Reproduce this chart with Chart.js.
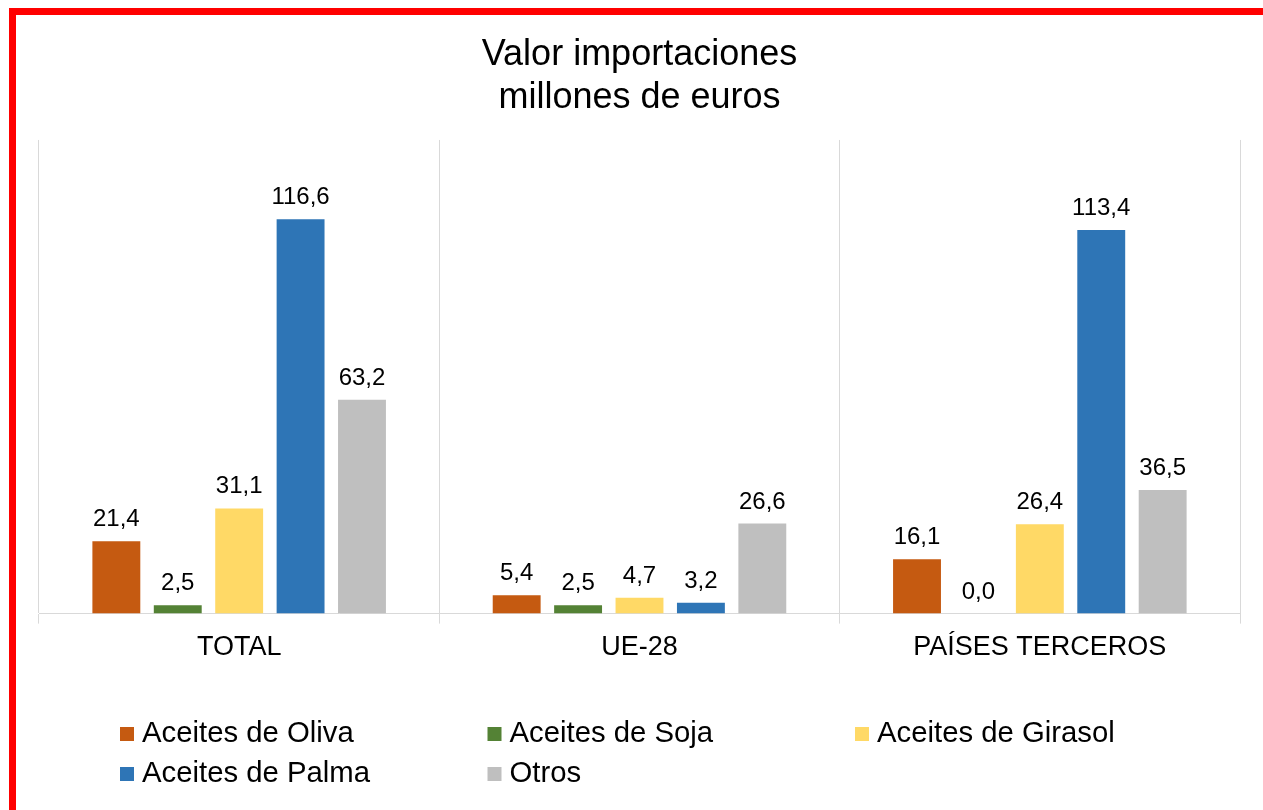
<!DOCTYPE html>
<html lang="es">
<head>
<meta charset="utf-8">
<title>Valor importaciones</title>
<script src="https://cdn.jsdelivr.net/npm/chart.js@4/dist/chart.umd.min.js"></script>
<style>
  html, body { margin: 0; padding: 0; background: #ffffff; }
  #wrap { width: 1263px; height: 810px; position: relative; overflow: hidden; }
  canvas { display: block; }
</style>
</head>
<body>
<div id="wrap"><canvas id="chart" width="1263" height="810"></canvas></div>
<script>
// Import value by oil type, in millions of euros
const categories = ['TOTAL', 'UE-28', 'PAÍSES TERCEROS'];
const seriesNames = ['Aceites de Oliva', 'Aceites de Soja', 'Aceites de Girasol', 'Aceites de Palma', 'Otros'];
const oliva   = [21.4, 5.4, 16.1];
const soja    = [2.5, 2.5, 0.0];
const girasol = [31.1, 4.7, 26.4];
const palma   = [116.6, 3.2, 113.4];
const otros   = [63.2, 26.6, 36.5];

const seriesValues = [oliva, soja, girasol, palma, otros];
const seriesColors = ['#c55a11', '#548235', '#ffd966', '#2e75b6', '#bfbfbf'];

const FONT = "'Liberation Sans', Arial, sans-serif";

const fmt = v => v.toFixed(1).replace('.', ',');

// White page with the red frame round it
const framePlugin = {
  id: 'frame',
  beforeDraw(chart) {
    const ctx = chart.ctx;
    ctx.save();
    ctx.fillStyle = '#ffffff';
    ctx.fillRect(0, 0, chart.width, chart.height);
    ctx.strokeStyle = '#ff0000';
    ctx.lineWidth = 7;
    ctx.strokeRect(12.5, 11.5, chart.width, chart.height - 0.5);
    ctx.restore();
  }
};

// Value printed above each bar
const valueLabels = {
  id: 'valueLabels',
  afterDatasetsDraw(chart) {
    const ctx = chart.ctx;
    ctx.save();
    ctx.font = '24px ' + FONT;
    ctx.fillStyle = '#000000';
    ctx.textAlign = 'center';
    ctx.textBaseline = 'alphabetic';
    chart.data.datasets.forEach((ds, i) => {
      chart.getDatasetMeta(i).data.forEach((bar, j) => {
        ctx.fillText(fmt(ds.data[j]), bar.x, bar.y - 15);
      });
    });
    ctx.restore();
  }
};

// Legend laid out in three columns, two rows
const gridLegend = {
  id: 'gridLegend',
  afterDraw(chart) {
    const ctx = chart.ctx;
    const cols = 3, colW = 367.5, left = 120, box = 14;
    const firstBaseline = 742, rowH = 40;
    ctx.save();
    ctx.font = '29.3px ' + FONT;
    ctx.textAlign = 'left';
    ctx.textBaseline = 'alphabetic';
    chart.data.datasets.forEach((ds, i) => {
      const x = left + (i % cols) * colW;
      const base = firstBaseline + Math.floor(i / cols) * rowH;
      ctx.fillStyle = ds.backgroundColor;
      ctx.fillRect(x, base - 15, box, box);
      ctx.fillStyle = '#000000';
      ctx.fillText(ds.label, x + 22, base);
    });
    ctx.restore();
  }
};

new Chart(document.getElementById('chart'), {
  type: 'bar',
  data: {
    labels: categories,
    datasets: seriesNames.map((name, i) => ({
      label: name,
      data: seriesValues[i],
      backgroundColor: seriesColors[i],
      borderWidth: 0,
      categoryPercentage: 0.767,
      barPercentage: 0.78
    }))
  },
  options: {
    responsive: false,
    animation: false,
    devicePixelRatio: 1,
    layout: { padding: { left: 39, right: 23, top: 34, bottom: 138 } },
    plugins: {
      legend: { display: false },
      tooltip: { enabled: false },
      title: {
        display: true,
        text: ['Valor importaciones', 'millones de euros'],
        color: '#000000',
        font: { family: FONT, size: 36, weight: 'normal', lineHeight: 1.194 },
        padding: { top: 0, bottom: 20 }
      }
    },
    scales: {
      x: {
        grid: {
          offset: true,
          color: '#d9d9d9',
          lineWidth: 1,
          tickLength: 10,
          drawOnChartArea: true
        },
        border: { display: true, color: '#d9d9d9', width: 1 },
        ticks: {
          color: '#000000',
          font: { family: FONT, size: 27 },
          padding: 8
        }
      },
      y: {
        display: false,
        min: 0,
        max: 140
      }
    }
  },
  plugins: [framePlugin, valueLabels, gridLegend]
});
</script>
</body>
</html>
